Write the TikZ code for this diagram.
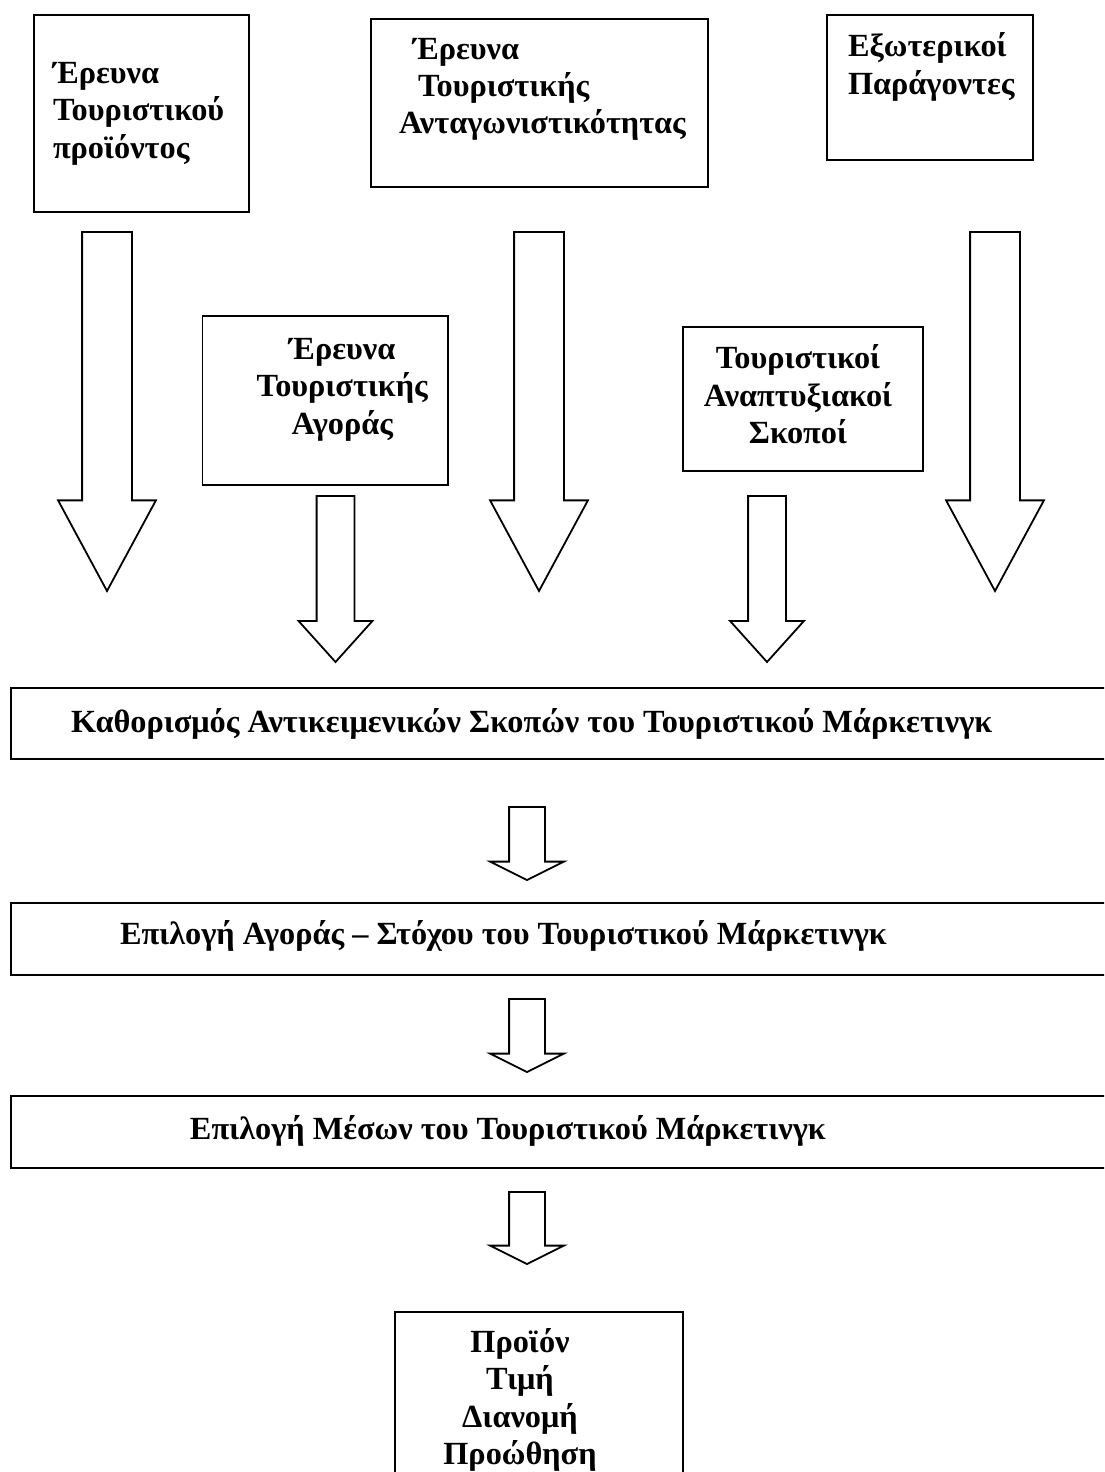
\documentclass[tikz,border=0pt]{standalone}
\usepackage{fontspec}
\setmainfont{Liberation Serif}
\usetikzlibrary{shapes.arrows}

% box contents: width, height, first baseline, lines
\newcommand{\boxlines}[4]{\parbox[c][#2][t]{#1}{\rule{0pt}{#3}#4}}

\begin{document}
\begin{tikzpicture}[%
x=1pt, y=-1pt,
box/.style={draw, line width=1.8pt, inner sep=0pt, outer sep=0pt, anchor=north west,
  font=\fontsize{32.3}{37.5}\selectfont\bfseries},
blockarrow/.style={single arrow, draw, line width=1.8pt, inner ysep=0pt, outer sep=0pt,
  shape border rotate=270, single arrow head indent=0pt, anchor=tail},
bigarrow/.style={blockarrow, inner xsep=24pt, minimum height=359pt, minimum width=96pt,
  single arrow head extend=24pt, single arrow tip angle=56.7},
smallarrow/.style={blockarrow, inner xsep=18pt, minimum height=166pt, minimum width=72pt,
  single arrow head extend=18pt, single arrow tip angle=84},
steparrow/.style={blockarrow, inner xsep=17pt, minimum height=73pt, minimum width=72pt,
  single arrow head extend=19pt, single arrow tip angle=127}
]
\useasboundingbox (0,0) rectangle (1104,1472);
\clip (0,0) rectangle (1104,1472);

% research and inputs
\node[box] (prod) at (34,15) {\boxlines{215pt}{197pt}{68pt}{\leftskip=19pt Έρευνα\\Τουριστικού\\προϊόντος}};
\node[box] (comp) at (371,19) {\boxlines{337pt}{168pt}{40pt}{\leftskip=28pt \hspace{14pt}Έρευνα\\\hspace*{19pt}Τουριστικής\\Ανταγωνιστικότητας}};
\node[box] (ext) at (827,15) {\boxlines{206pt}{145pt}{42pt}{\leftskip=21pt Εξωτερικοί\\Παράγοντες}};
\node[box] (mkt) at (202.5,316) {\boxlines{245.5pt}{169pt}{43pt}{\centering\leftskip=34pt plus 1fil Έρευνα\\Τουριστικής\\Αγοράς}};
\node[box] (goals) at (683,327) {\boxlines{240pt}{144pt}{41.5pt}{\centering\rightskip=10pt plus 1fil Τουριστικοί\\Αναπτυξιακοί\\Σκοποί}};

\node[bigarrow] (aprod) at (107,232) {};
\node[bigarrow] (acomp) at (539,232) {};
\node[bigarrow] (aext) at (995,232) {};
\node[smallarrow] (amkt) at (335.5,496) {};
\node[smallarrow] (agoals) at (767,496) {};

% planning steps
\node[box] (obj) at (11,688) {\boxlines{1109pt}{71pt}{44pt}{\leftskip=60pt Καθορισμός Αντικειμενικών Σκοπών του Τουριστικού Μάρκετινγκ}};
\node[steparrow] (aobj) at (527,807) {};
\node[box] (target) at (11,903) {\boxlines{1109pt}{72pt}{41pt}{\leftskip=109pt Επιλογή Αγοράς – Στόχου του Τουριστικού Μάρκετινγκ}};
\node[steparrow] (atarget) at (527,999) {};
\node[box] (means) at (11,1096) {\boxlines{1109pt}{72pt}{43pt}{\leftskip=179pt Επιλογή Μέσων του Τουριστικού Μάρκετινγκ}};
\node[steparrow, minimum height=72pt] (ameans) at (527,1192) {};
\node[box] (mix) at (395,1312) {\boxlines{288pt}{180pt}{40pt}{\centering\rightskip=38pt plus 1fil Προϊόν\\Τιμή\\Διανομή\\Προώθηση}};
\end{tikzpicture}
\end{document}
